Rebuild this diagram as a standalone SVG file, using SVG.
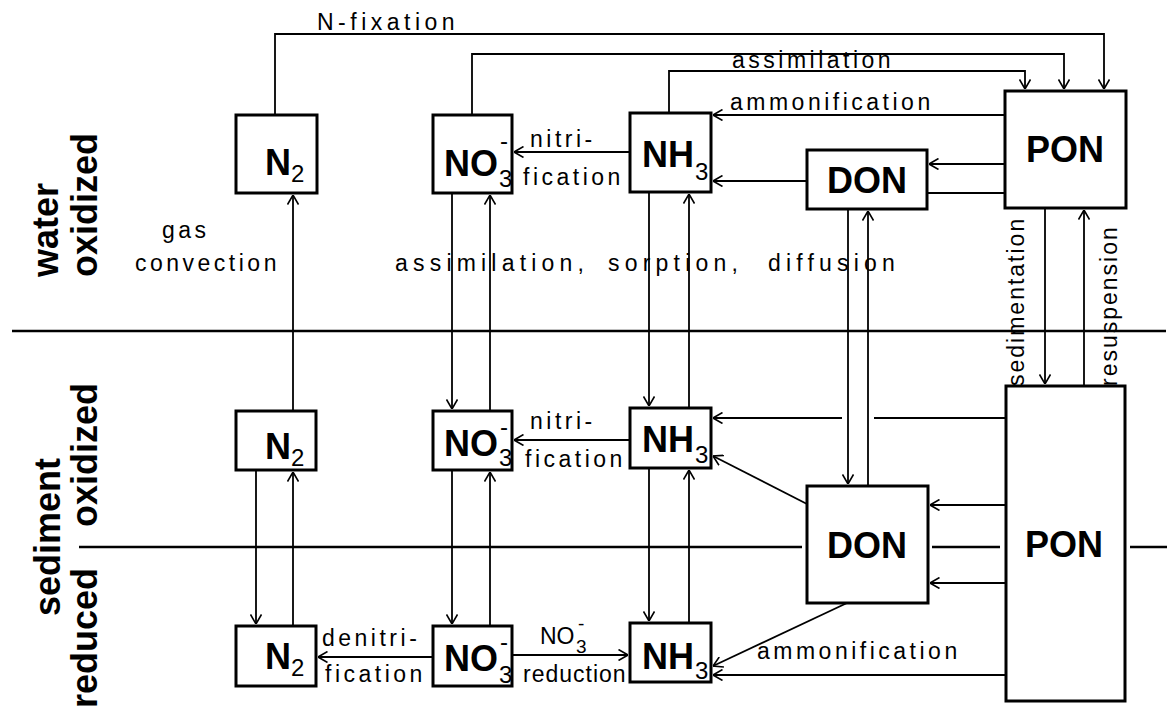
<svg xmlns="http://www.w3.org/2000/svg" width="1169" height="708" viewBox="0 0 1169 708">
<defs>
<marker id="ah" viewBox="0 0 10 12" refX="10" refY="6" markerWidth="10" markerHeight="12" markerUnits="userSpaceOnUse" orient="auto">
<path d="M0.5,0.5 L10,6 L0.5,11.5" fill="none" stroke="#000" stroke-width="1.6"/>
</marker>
<style>
.box{fill:#fff;stroke:#000;stroke-width:3}
.nl{font-family:"Liberation Sans",Arial,sans-serif;font-weight:bold;font-size:36px;fill:#000}
.sub{font-size:24px;font-weight:normal}
.lb{font-family:"Liberation Sans",Arial,sans-serif;font-size:23px;letter-spacing:3.5px;fill:#000}
.rl{font-family:"Liberation Sans",Arial,sans-serif;font-size:23px;letter-spacing:2px;fill:#000}
.side{font-family:"Liberation Sans",Arial,sans-serif;font-weight:bold;font-size:36px;fill:#000}
#connectors line,#connectors polyline{stroke:#000;stroke-width:1.8;fill:none}
.a{marker-end:url(#ah)}
#layers line{stroke:#000;stroke-width:2.5}
</style>
</defs>
<rect width="1169" height="708" fill="#fff"/>

<g id="layers">
<line x1="12" y1="331" x2="1166" y2="331"/>
<line x1="79" y1="547" x2="802" y2="547"/>
<line x1="932" y1="547" x2="1000" y2="547"/>
<line x1="1130" y1="547" x2="1167" y2="547"/>
</g>

<g id="side-labels">
<text class="side" transform="translate(58,277) rotate(-90)">water</text>
<text class="side" transform="translate(97,277) rotate(-90)">oxidized</text>
<text class="side" transform="translate(60,537) rotate(-90)" text-anchor="middle">sediment</text>
<text class="side" transform="translate(97,527) rotate(-90)">oxidized</text>
<text class="side" transform="translate(97,708) rotate(-90)">reduced</text>
</g>

<g id="connectors">
<polyline class="a" points="275,115 275,34 1104,34 1104,89"/>
<polyline class="a" points="472,115 472,54 1064,54 1064,89"/>
<polyline class="a" points="669,113 669,71 1025,71 1025,89"/>
<line class="a" x1="1005" y1="115" x2="713" y2="115"/>
<line class="a" x1="630" y1="152" x2="514" y2="152"/>
<line class="a" x1="807" y1="181" x2="713" y2="181"/>
<line class="a" x1="1005" y1="164" x2="929" y2="164"/>
<line x1="927" y1="193" x2="1005" y2="193"/>
<line class="a" x1="293" y1="411" x2="293" y2="195"/>
<line class="a" x1="452" y1="193" x2="452" y2="409"/>
<line class="a" x1="490" y1="411" x2="490" y2="195"/>
<line class="a" x1="649" y1="192" x2="649" y2="406"/>
<line class="a" x1="689" y1="408" x2="689" y2="194"/>
<line class="a" x1="848" y1="209" x2="848" y2="484"/>
<line class="a" x1="868" y1="486" x2="868" y2="211"/>
<line class="a" x1="1045" y1="208" x2="1045" y2="384"/>
<line class="a" x1="1084" y1="386" x2="1084" y2="210"/>
<line class="a" x1="256" y1="470" x2="256" y2="624"/>
<line class="a" x1="293" y1="626" x2="293" y2="472"/>
<line class="a" x1="452" y1="470" x2="452" y2="624"/>
<line class="a" x1="490" y1="626" x2="490" y2="472"/>
<line class="a" x1="649" y1="468" x2="649" y2="621"/>
<line class="a" x1="689" y1="623" x2="689" y2="470"/>
<line class="a" x1="630" y1="440" x2="514" y2="440"/>
<line x1="1006" y1="418" x2="874" y2="418"/>
<line class="a" x1="842" y1="418" x2="713" y2="418"/>
<line class="a" x1="807" y1="504" x2="713" y2="456"/>
<line class="a" x1="1006" y1="505" x2="930" y2="505"/>
<line class="a" x1="1006" y1="583" x2="930" y2="583"/>
<line class="a" x1="847" y1="603" x2="713" y2="666"/>
<line class="a" x1="1006" y1="675" x2="713" y2="675"/>
<line class="a" x1="512" y1="655" x2="628" y2="655"/>
<line class="a" x1="433" y1="657" x2="318" y2="657"/>
</g>

<g id="process-labels">
<text class="lb" style="letter-spacing:4.5px" x="317" y="30">N-fixation</text>
<text class="lb" x="732" y="68">assimilation</text>
<text class="lb" x="730" y="110">ammonification</text>
<text class="lb" x="530" y="147">nitri-</text>
<text class="lb" x="523" y="185">fication</text>
<text class="lb" x="162" y="238">gas</text>
<text class="lb" x="135" y="271">convection</text>
<text class="lb" style="letter-spacing:5.2px" y="271"><tspan x="395">assimilation,</tspan><tspan x="608">sorption,</tspan><tspan x="768">diffusion</tspan></text>
<text class="lb" x="530" y="429">nitri-</text>
<text class="lb" x="525" y="467">fication</text>
<text class="lb" x="322" y="646">denitri-</text>
<text class="lb" x="325" y="682">fication</text>
<text class="lb" style="letter-spacing:0" x="540" y="644">NO<tspan x="576" y="653" font-size="19">3</tspan><tspan x="578" y="630" font-size="19">-</tspan></text>
<text class="lb" style="letter-spacing:1px" x="523" y="682">reduction</text>
<text class="lb" x="757" y="659">ammonification</text>
<text class="rl" transform="translate(1024,386) rotate(-90)">sedimentation</text>
<text class="rl" transform="translate(1117,386) rotate(-90)">resuspension</text>
</g>

<g id="N2-water"><rect class="box" x="236" y="115" width="81" height="78"/><text class="nl" x="265" y="175">N<tspan class="sub" x="291" y="182">2</tspan></text></g>
<g id="NO3-water"><rect class="box" x="433" y="115" width="79" height="78"/><text class="nl" x="444" y="176">NO<tspan class="sub" x="499" y="187">3</tspan><tspan class="sub" x="500" y="149">-</tspan></text></g>
<g id="NH3-water"><rect class="box" x="630" y="113" width="81" height="79"/><text class="nl" x="642" y="167">NH<tspan class="sub" x="695" y="180">3</tspan></text></g>
<g id="DON-water"><rect class="box" x="807" y="150" width="120" height="59"/><text class="nl" x="867" y="193" text-anchor="middle">DON</text></g>
<g id="PON-water"><rect class="box" x="1005" y="91" width="121" height="117"/><text class="nl" x="1065" y="162" text-anchor="middle">PON</text></g>

<g id="N2-sed-ox"><rect class="box" x="236" y="411" width="80" height="59"/><text class="nl" x="265" y="459">N<tspan class="sub" x="291" y="466">2</tspan></text></g>
<g id="NO3-sed-ox"><rect class="box" x="433" y="411" width="79" height="59"/><text class="nl" x="444" y="456">NO<tspan class="sub" x="499" y="466">3</tspan><tspan class="sub" x="500" y="435">-</tspan></text></g>
<g id="NH3-sed-ox"><rect class="box" x="630" y="408" width="81" height="60"/><text class="nl" x="642" y="452">NH<tspan class="sub" x="695" y="463">3</tspan></text></g>
<g id="DON-sed"><rect class="box" x="807" y="486" width="121" height="117"/><text class="nl" x="867" y="558" text-anchor="middle">DON</text></g>
<g id="PON-sed"><rect class="box" x="1006" y="386" width="119" height="315"/><text class="nl" x="1064" y="557" text-anchor="middle">PON</text></g>

<g id="N2-sed-red"><rect class="box" x="236" y="626" width="80" height="60"/><text class="nl" x="265" y="669">N<tspan class="sub" x="291" y="676">2</tspan></text></g>
<g id="NO3-sed-red"><rect class="box" x="433" y="626" width="79" height="60"/><text class="nl" x="444" y="671">NO<tspan class="sub" x="499" y="683">3</tspan><tspan class="sub" x="500" y="650">-</tspan></text></g>
<g id="NH3-sed-red"><rect class="box" x="630" y="623" width="81" height="59"/><text class="nl" x="642" y="669">NH<tspan class="sub" x="695" y="679">3</tspan></text></g>
</svg>
